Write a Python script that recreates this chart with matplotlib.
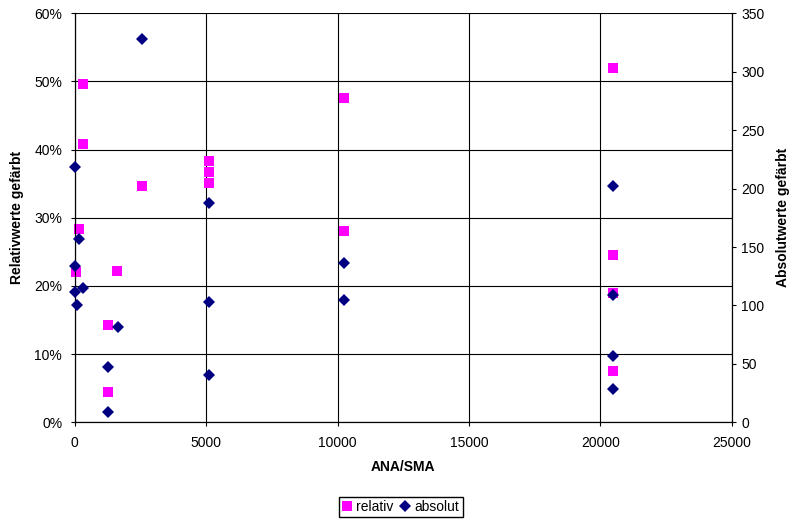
import matplotlib
matplotlib.use('Agg')
import matplotlib.pyplot as plt
from matplotlib.ticker import FuncFormatter, MultipleLocator
from matplotlib.lines import Line2D

plt.rcParams['font.family'] = ['Liberation Sans', 'DejaVu Sans']
plt.rcParams['font.size'] = 10

# relative values (share coloured)
relX = [300, 300, 5120, 5120, 5120, 2560, 160, 40, 1620, 1280, 1280,
        10240, 10240, 20480, 20480, 20480, 20480]
relY = [49.7, 40.8, 38.3, 36.7, 35.1, 34.6, 28.4, 22.1, 22.2, 14.3, 4.4,
        47.6, 28.1, 52.0, 24.5, 18.9, 7.6]

# absolute values (count coloured)
absX = [2560, 10, 5120, 160, 10, 320, 10, 80, 5120, 1640, 1280, 5120, 1280,
        10240, 10240, 20480, 20480, 20480, 20480]
absY = [327.8, 218.7, 187.4, 157.1, 134.0, 114.9, 111.8, 100.4, 102.7, 81.3,
        47.1, 40.5, 8.6, 136.1, 104.7, 202.0, 108.9, 56.7, 28.8]

fig = plt.figure(figsize=(7.92, 5.21), dpi=100)
ax = fig.add_axes([0.0943, 0.1894, 0.8296, 0.7851])
ax2 = ax.twinx()

ax.plot(relX, relY, 's', color='#FF00FF', markersize=7.2, markeredgewidth=0,
        zorder=3, clip_on=False)
ax2.plot(absX, absY, 'D', color='#000080', markersize=5.8, markeredgewidth=0,
         zorder=3, clip_on=False)

ax.set_xlim(0, 25000)
ax.set_ylim(0, 60)
ax2.set_ylim(0, 350)
ax.xaxis.set_major_locator(MultipleLocator(5000))
ax.yaxis.set_major_locator(MultipleLocator(10))
ax2.yaxis.set_major_locator(MultipleLocator(50))
ax.yaxis.set_major_formatter(FuncFormatter(lambda v, p: '%d%%' % v))

ax.grid(True, color='black', linewidth=0.8)
ax.set_axisbelow(True)

for a in (ax, ax2):
    a.tick_params(direction='out', length=3, width=0.8, color='black',
                  labelsize=10)
    for s in a.spines.values():
        s.set_linewidth(0.8)
ax.spines['top'].set_visible(False)
ax2.spines['top'].set_visible(False)
ax.tick_params(axis='y', pad=6)
ax.tick_params(axis='x', pad=7)
ax2.tick_params(axis='y', pad=4)

ax.set_xlabel('ANA/SMA', fontweight='bold', fontsize=10)
ax.set_ylabel('Relativwerte gefärbt', fontweight='bold', fontsize=10)
ax2.set_ylabel('Absolutwerte gefärbt', fontweight='bold', fontsize=10)
ax.xaxis.set_label_coords(0.5, -0.092)
ax.yaxis.set_label_coords(-0.077, 0.5)
ax2.yaxis.set_label_coords(1.068, 0.5)

handles = [Line2D([], [], ls='', marker='s', color='#FF00FF', markersize=7.2,
                  markeredgewidth=0),
           Line2D([], [], ls='', marker='D', color='#000080', markersize=5.8,
                  markeredgewidth=0)]
fig.legend(handles, ['relativ', 'absolut'], loc='center',
           bbox_to_anchor=(0.506, 0.0269), ncol=2, fancybox=False,
           edgecolor='black', framealpha=1, fontsize=10, handlelength=0.7,
           handletextpad=0.3, columnspacing=0.5, borderpad=0.25,
           borderaxespad=0)

fig.savefig('out.png', dpi=100)
